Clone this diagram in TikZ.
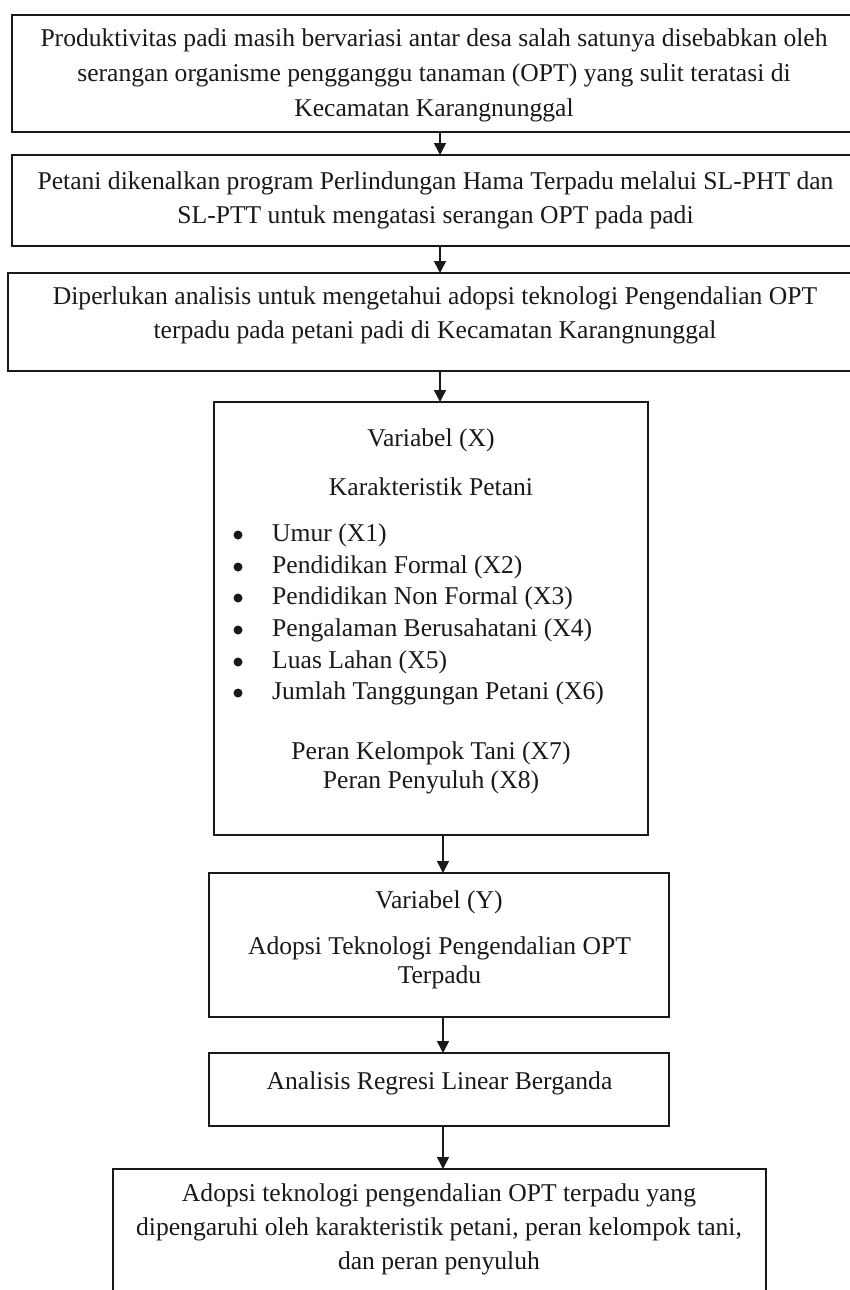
\documentclass[tikz,border=0pt]{standalone}
\usepackage{fontspec}
\setmainfont{Liberation Serif}
\usetikzlibrary{arrows.meta}
\begin{document}
\begin{tikzpicture}[x=1pt,y=-1pt,
  box/.style={draw=black!90, line width=1.5pt, inner sep=0pt, outer sep=0pt, rectangle},
  txt/.style={inner sep=0pt, align=center, font=\fontsize{25.6}{34}\selectfont, text=black!90},
  dot/.style={circle, fill=black!90, inner sep=0pt, minimum size=9pt},
  arr/.style={line width=1.6pt, draw=black!90, -{Triangle[length=12pt,width=12pt]}}]
\useasboundingbox (0,0) rectangle (850,1290);
% boxes
\node[box, minimum width=844pt, minimum height=117pt] (b1) at (434,73.5) {};
\node[box, minimum width=844pt, minimum height=91pt] (b2) at (434,200.5) {};
\node[box, minimum width=848pt, minimum height=98pt] (b3) at (432,322) {};
\node[box, minimum width=434pt, minimum height=433pt] (b4) at (431,618.5) {};
\node[box, minimum width=460pt, minimum height=144pt] (b5) at (439,945) {};
\node[box, minimum width=460pt, minimum height=73pt] (b6) at (439,1089.5) {};
\node[box, minimum width=653pt, minimum height=140pt] (b7) at (439.5,1239) {};
% texts
\node[txt, font=\fontsize{25.6}{35}\selectfont] (t1) at (434,75) {Produktivitas padi masih bervariasi antar desa salah satunya disebabkan oleh\\serangan organisme pengganggu tanaman (OPT) yang sulit teratasi di\\Kecamatan Karangnunggal};
\node[txt] (t2) at (435.5,200) {Petani dikenalkan program Perlindungan Hama Terpadu melalui SL-PHT dan\\SL-PTT untuk mengatasi serangan OPT pada padi};
\node[txt] (t3) at (435,315) {Diperlukan analisis untuk mengetahui adopsi teknologi Pengendalian OPT\\terpadu pada petani padi di Kecamatan Karangnunggal};
\node[txt] (t4a) at (431,440) {Variabel (X)};
\node[txt] (t4b) at (431,487) {Karakteristik Petani};
\node[dot] (k1) at (238,535) {};
\node[dot] (k2) at (238,567) {};
\node[dot] (k3) at (238,598) {};
\node[dot] (k4) at (238,630) {};
\node[dot] (k5) at (238,662) {};
\node[dot] (k6) at (238,693) {};
\node[txt, anchor=west] (x1) at (272,535) {Umur (X1)};
\node[txt, anchor=west] (x2) at (272,567) {Pendidikan Formal (X2)};
\node[txt, anchor=west] (x3) at (272,598) {Pendidikan Non Formal (X3)};
\node[txt, anchor=west] (x4) at (272,630) {Pengalaman Berusahatani (X4)};
\node[txt, anchor=west] (x5) at (272,662) {Luas Lahan (X5)};
\node[txt, anchor=west] (x6) at (272,693) {Jumlah Tanggungan Petani (X6)};
\node[txt, font=\fontsize{25.6}{29}\selectfont] (t4c) at (431,767.5) {Peran Kelompok Tani (X7)\\Peran Penyuluh (X8)};
\node[txt] (t5a) at (439,902) {Variabel (Y)};
\node[txt, font=\fontsize{25.6}{29}\selectfont] (t5b) at (439.5,962.5) {Adopsi Teknologi Pengendalian OPT\\Terpadu};
\node[txt] (t6) at (439.5,1083) {Analisis Regresi Linear Berganda};
\node[txt] (t7) at (439,1229) {Adopsi teknologi pengendalian OPT terpadu yang\\dipengaruhi oleh karakteristik petani, peran kelompok tani,\\dan peran penyuluh};
% connectors
\coordinate (ax1) at (440,0);
\coordinate (ax2) at (443,0);
\draw[arr] (b1.south -| ax1) -- (b2.north -| ax1);
\draw[arr] (b2.south -| ax1) -- (b3.north -| ax1);
\draw[arr] (b3.south -| ax1) -- (b4.north -| ax1);
\draw[arr] (b4.south -| ax2) -- (b5.north -| ax2);
\draw[arr] (b5.south -| ax2) -- (b6.north -| ax2);
\draw[arr] (b6.south -| ax2) -- (b7.north -| ax2);
\end{tikzpicture}
\end{document}
